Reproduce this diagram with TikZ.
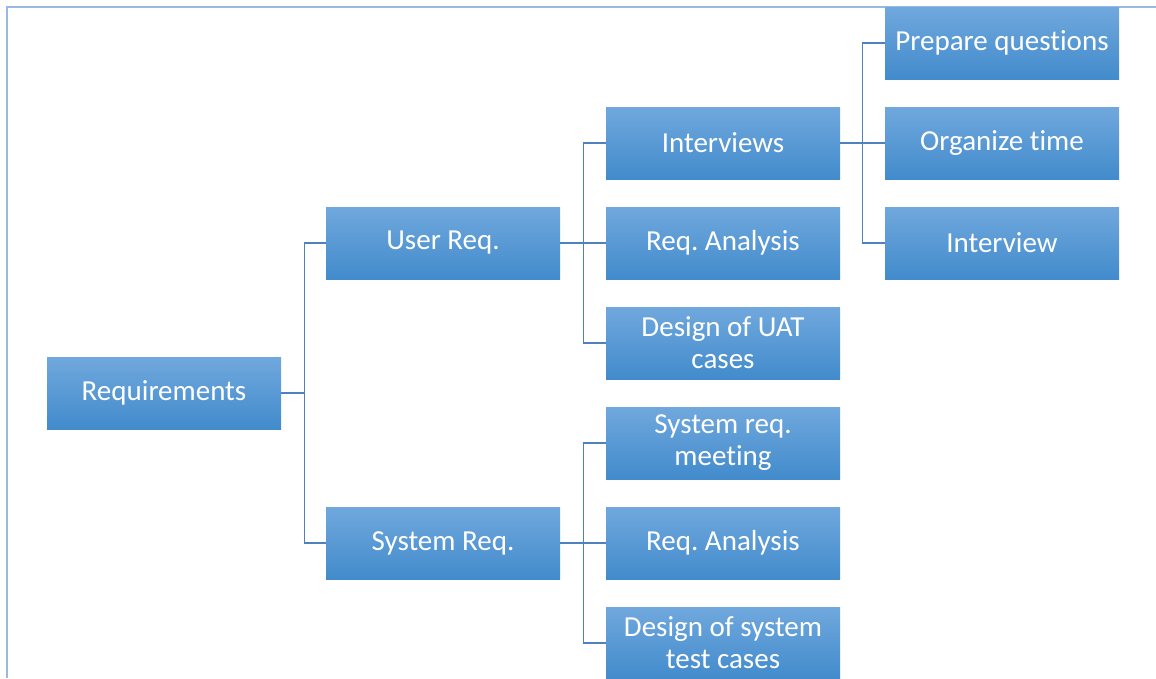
\documentclass[tikz,border=0pt]{standalone}
\usepackage{fontspec}
\setmainfont{Carlito}[Ligatures=NoCommon]
\frenchspacing
\definecolor{linecol}{RGB}{79,129,189}
\definecolor{framecol}{RGB}{150,186,228}
\definecolor{boxtop}{RGB}{112,168,221}
\definecolor{boxbot}{RGB}{66,139,204}
\tikzset{
  box/.style={rectangle, top color=boxtop, bottom color=boxbot, draw=none,
    minimum width=234pt, minimum height=72pt, inner sep=0pt, text=white,
    align=center, font=\fontsize{29}{32}\selectfont},
  conn/.style={draw=linecol, line width=1.2pt}
}
\begin{document}
\begin{tikzpicture}[x=1pt,y=-1pt]
\useasboundingbox (0,0) rectangle (1156,678);
\draw[framecol, line width=1.6pt] (7,678) -- (7,7) -- (1156,7);
\node[box] (req) at (164,393) {Requirements};
\node[box] (user) at (443,243) {User Req.};
\node[box] (sys) at (443,543) {System Req.};
\node[box] (int) at (723,143) {Interviews};
\node[box] (ra1) at (723,243) {Req. Analysis};
\node[box] (uat) at (723,343) {Design of UAT\\cases};
\node[box] (srm) at (723,443) {System req.\\meeting};
\node[box] (ra2) at (723,543) {Req. Analysis};
\node[box] (stc) at (723,643) {Design of system\\test cases};
\node[box] (pq) at (1002,43) {Prepare questions};
\node[box] (ot) at (1002,143) {Organize time};
\node[box] (iv) at (1002,243) {Interview};
\coordinate (j1) at ([xshift=23pt]req.east);
\coordinate (j2) at ([xshift=23pt]user.east);
\coordinate (j3) at ([xshift=23pt]sys.east);
\coordinate (j4) at ([xshift=22pt]int.east);
\draw[conn] (req.east) -- (j1) |- (user.west);
\draw[conn] (j1) |- (sys.west);
\draw[conn] (user.east) -- (j2) |- (int.west);
\draw[conn] (j2) -- (ra1.west);
\draw[conn] (j2) |- (uat.west);
\draw[conn] (sys.east) -- (j3) |- (srm.west);
\draw[conn] (j3) -- (ra2.west);
\draw[conn] (j3) |- (stc.west);
\draw[conn] (int.east) -- (j4) |- (pq.west);
\draw[conn] (j4) -- (ot.west);
\draw[conn] (j4) |- (iv.west);
\end{tikzpicture}
\end{document}
